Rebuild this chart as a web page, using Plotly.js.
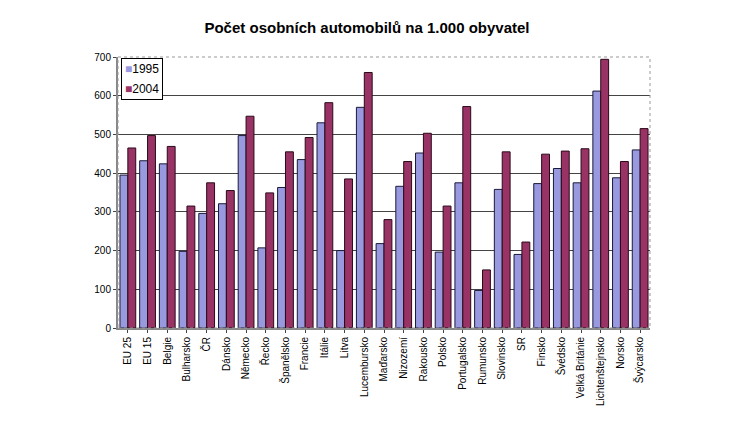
<!DOCTYPE html>
<html><head><meta charset="utf-8">
<script src="https://cdn.plot.ly/plotly-3.0.1.min.js"></script>
<style>html,body{margin:0;padding:0;background:#fff}#c{width:734px;height:423px}</style>
</head><body><div id="c"></div>
<script>
const categories = ["EU 25","EU 15","Belgie","Bulharsko","ČR","Dánsko","Německo","Řecko","Španělsko","Francie","Itálie","Litva","Lucembursko","Maďarsko","Nizozemí","Rakousko","Polsko","Portugalsko","Rumunsko","Slovinsko","SR","Finsko","Švédsko","Velká Británie","Lichtenštejnsko","Norsko","Švýcarsko"];
const values1995 = [395,432,424,198,296,321,497,207,363,435,530,200,570,218,366,452,196,375,97,358,190,373,412,375,612,388,460];
const values2004 = [465,497,469,315,375,355,547,349,455,492,582,385,660,280,430,503,315,572,150,455,222,449,457,463,694,430,515];
const seriesNames = ["1995","2004"];
const seriesColors = ['#9999e0','#993366'];
const yTicks = [0,100,200,300,400,500,600,700];

const traces = [
  {type:'bar', name:seriesNames[0], x:categories, y:values1995, showlegend:false,
   marker:{color:seriesColors[0], line:{color:'#1a1a3a', width:1}}},
  {type:'bar', name:seriesNames[1], x:categories, y:values2004, showlegend:false,
   marker:{color:seriesColors[1], line:{color:'#2a0a18', width:1}}}
];
const legendText = seriesNames.map((n,i)=>`<span style="font-size:12px"><span style="color:${seriesColors[i]}">■</span>${n}</span>`).join('<br>');
const layout = {
  width:734, height:423,
  margin:{l:118, r:84, t:57, b:95},
  paper_bgcolor:'#fff', plot_bgcolor:'#fff',
  font:{family:'Liberation Sans, Arial, sans-serif', size:10, color:'#000'},
  title:{text:'<b>Počet osobních automobilů na 1.000 obyvatel</b>', x:0.5, xanchor:'center', y:0.935, yanchor:'middle',
         font:{family:'Liberation Sans, Arial, sans-serif', size:15, color:'#000'}},
  barmode:'group', bargap:0.2, bargroupgap:0,
  xaxis:{tickangle:-90, tickfont:{size:10}, showline:true, linecolor:'#888', linewidth:2,
         ticks:'outside', ticklen:3, tickcolor:'#444', mirror:false, showgrid:false},
  yaxis:{range:[0,700], tickvals:yTicks, ticks:'outside', ticklen:3, tickcolor:'#444',
         showline:true, linecolor:'#888', linewidth:2, gridcolor:'#444', gridwidth:1,
         zeroline:false, tickfont:{size:10}},
  shapes:[{type:'rect', xref:'paper', yref:'paper', x0:0, x1:1, y0:0, y1:1,
           line:{color:'#999', width:1, dash:'dot'}}],
  annotations:[{xref:'paper', yref:'paper', x:0.006, y:0.997, xanchor:'left', yanchor:'top',
                text:legendText, showarrow:false, align:'left', bgcolor:'#fff',
                bordercolor:'#000', borderwidth:1, borderpad:3, font:{size:15, color:'#000'}}]
};
Plotly.newPlot('c', traces, layout, {displayModeBar:false, staticPlot:true});
</script></body></html>
